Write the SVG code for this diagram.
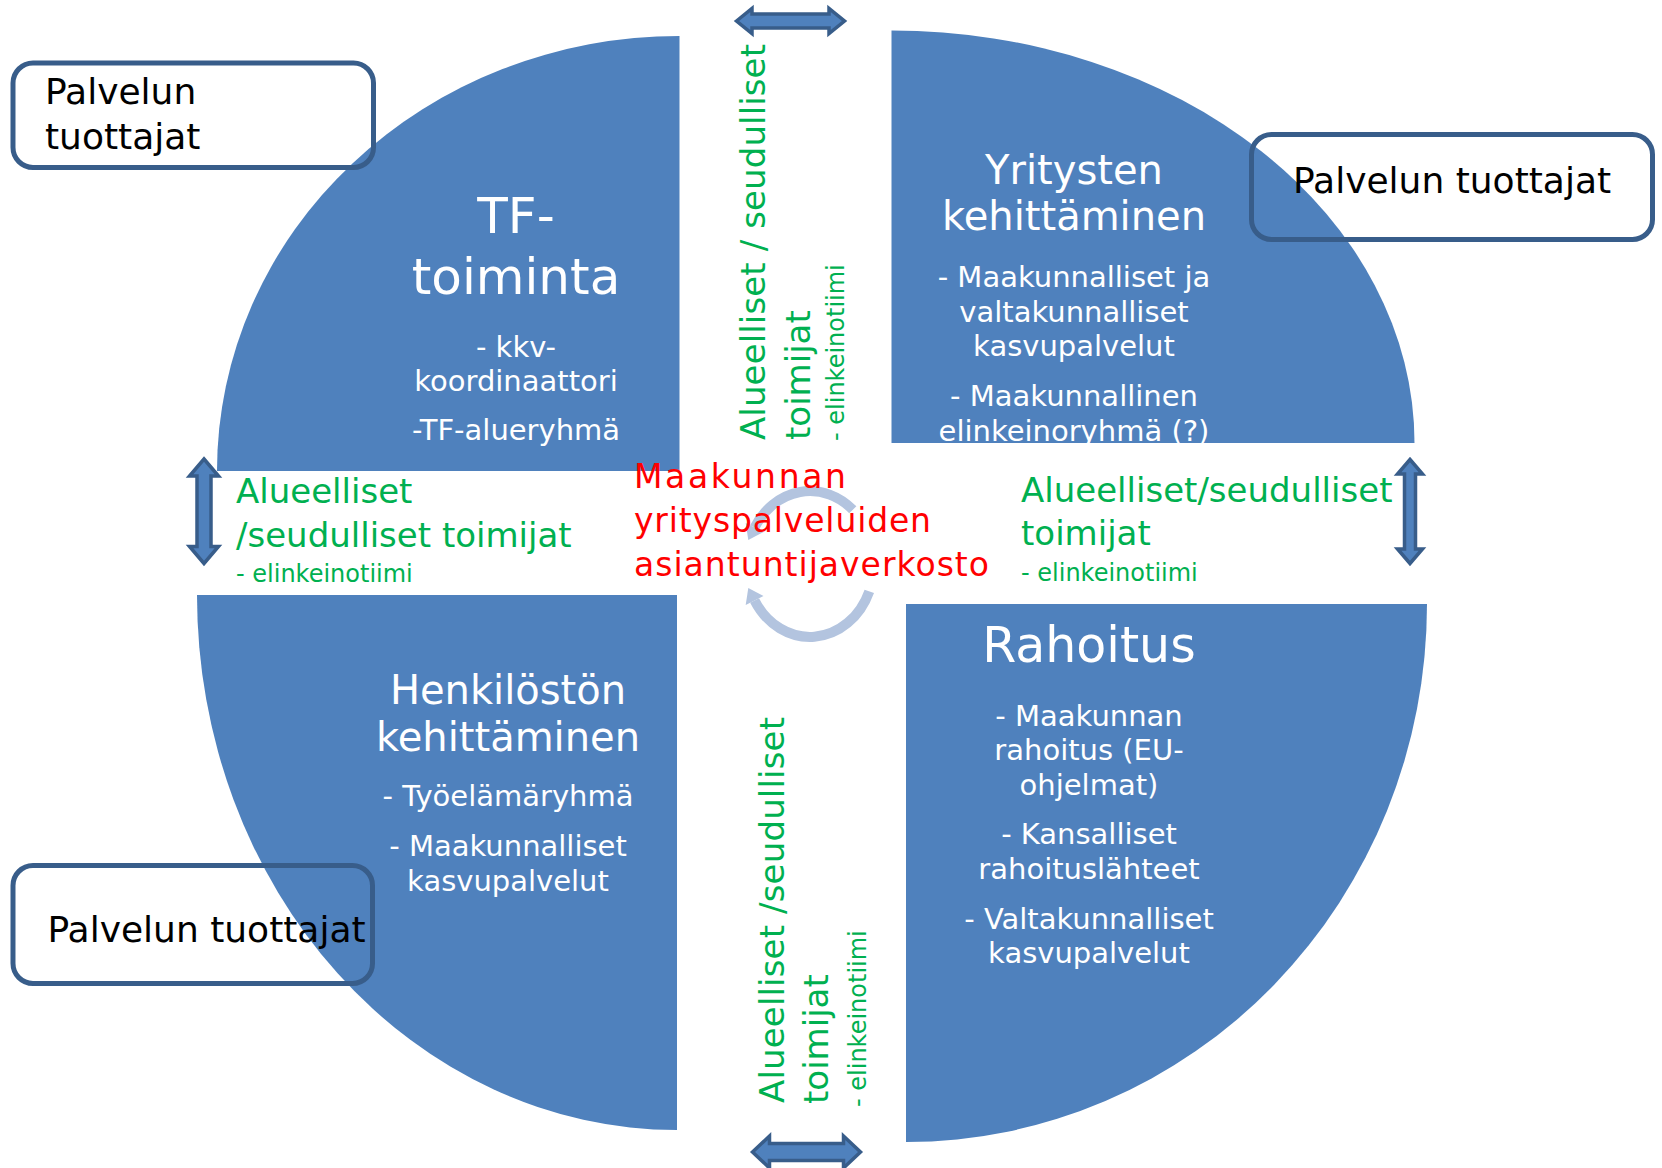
<svg xmlns="http://www.w3.org/2000/svg" width="1662" height="1168" viewBox="0 0 1662 1168">
<style>
text { font-family: 'DejaVu Sans', 'Liberation Sans', sans-serif; }
.quad { fill: #4F81BD; }
.qt { fill: #FFFFFF; text-anchor: middle; }
.big { font-size: 40px; }
.sm { font-size: 29px; }
.box { fill: none; stroke: #385D8A; stroke-width: 5; }
.bt { fill: #000000; font-size: 36px; }
.gr { fill: #00B050; }
.g34 { font-size: 34px; }
.g24 { font-size: 24px; }
.red { fill: #FF0000; font-size: 33px; }
.dbl { fill: #4F81BD; stroke: #385D8A; stroke-width: 3.5; stroke-linejoin: miter; }
.cyc { fill: none; stroke: #B3C4DF; stroke-width: 10; }
.cych { fill: #B3C4DF; }
</style>
<defs>
<clipPath id="clipTR">
<path d="M 891.5 443 L 891.5 30.5 A 523 412.5 0 0 1 1414.5 443 Z"/>
</clipPath>
</defs>
<rect x="0" y="0" width="1662" height="1168" fill="#FFFFFF"/>

<g id="quadrant-tf">
<path class="quad" d="M 679.5 471 L 217 471 A 462.5 435 0 0 1 679.5 36 Z"/>
<text class="qt" x="516" y="233" font-size="50">TF-</text>
<text class="qt" x="516" y="294" font-size="50">toiminta</text>
<text class="qt sm" x="516" y="357" font-size="30">- kkv-</text>
<text class="qt sm" x="516" y="391">koordinaattori</text>
<text class="qt sm" x="516" y="440">-TF-alueryhmä</text>
</g>

<g id="quadrant-yritysten">
<path class="quad" d="M 891.5 443 L 891.5 30.5 A 523 412.5 0 0 1 1414.5 443 Z"/>
<g clip-path="url(#clipTR)">
<text class="qt big" x="1074" y="184">Yritysten</text>
<text class="qt big" x="1074" y="230">kehittäminen</text>
<text class="qt sm" x="1074" y="287">- Maakunnalliset ja</text>
<text class="qt sm" x="1074" y="321.5">valtakunnalliset</text>
<text class="qt sm" x="1074" y="356">kasvupalvelut</text>
<text class="qt sm" x="1074" y="406">- Maakunnallinen</text>
<text class="qt sm" x="1074" y="441">elinkeinoryhmä (?)</text>
</g>
</g>

<g id="quadrant-henkilosto">
<path class="quad" d="M 677 595 L 677 1130 A 480 535 0 0 1 197 595 Z"/>
<text class="qt big" x="508" y="704">Henkilöstön</text>
<text class="qt big" x="508" y="751">kehittäminen</text>
<text class="qt sm" x="508" y="806">- Työelämäryhmä</text>
<text class="qt sm" x="508" y="856">- Maakunnalliset</text>
<text class="qt sm" x="508" y="890.5">kasvupalvelut</text>
</g>

<g id="quadrant-rahoitus">
<path class="quad" d="M 906 604 L 1427 604 A 521 538 0 0 1 906 1142 Z"/>
<text class="qt" x="1089" y="662" font-size="49">Rahoitus</text>
<text class="qt sm" x="1089" y="725.5">- Maakunnan</text>
<text class="qt sm" x="1089" y="760">rahoitus (EU-</text>
<text class="qt sm" x="1089" y="794.5">ohjelmat)</text>
<text class="qt sm" x="1089" y="844">- Kansalliset</text>
<text class="qt sm" x="1089" y="879">rahoituslähteet</text>
<text class="qt sm" x="1089" y="929">- Valtakunnalliset</text>
<text class="qt sm" x="1089" y="963">kasvupalvelut</text>
</g>

<g id="box-tl">
<rect class="box" x="13" y="63" width="360.5" height="104.5" rx="20"/>
<text class="bt" x="45" y="104">Palvelun</text>
<text class="bt" x="45" y="148.5">tuottajat</text>
</g>

<g id="box-tr">
<rect class="box" x="1251.5" y="134.5" width="401" height="105" rx="20"/>
<text class="bt" x="1293" y="193">Palvelun tuottajat</text>
</g>

<g id="box-bl">
<rect class="box" x="13" y="865.5" width="359.5" height="118" rx="20"/>
<text class="bt" x="47.5" y="942">Palvelun tuottajat</text>
</g>

<g id="label-left">
<text class="gr g34" x="236" y="503">Alueelliset</text>
<text class="gr g34" x="236" y="547">/seudulliset toimijat</text>
<text class="gr g24" x="236" y="582">- elinkeinotiimi</text>
</g>

<g id="label-right">
<text class="gr g34" x="1021" y="502">Alueelliset/seudulliset</text>
<text class="gr g34" x="1021" y="545">toimijat</text>
<text class="gr g24" x="1021" y="581">- elinkeinotiimi</text>
</g>

<g id="label-top">
<text class="gr g34" x="765" y="440" transform="rotate(-90 765 440)" textLength="396" lengthAdjust="spacing">Alueelliset / seudulliset</text>
<text class="gr g34" x="810" y="440" transform="rotate(-90 810 440)">toimijat</text>
<text class="gr g24" x="844" y="441" transform="rotate(-90 844 441)">- elinkeinotiimi</text>
</g>

<g id="label-bottom">
<text class="gr g34" x="783.5" y="1103" transform="rotate(-90 783.5 1103)" textLength="386" lengthAdjust="spacing">Alueelliset /seudulliset</text>
<text class="gr g34" x="828" y="1104" transform="rotate(-90 828 1104)">toimijat</text>
<text class="gr g24" x="866" y="1107" transform="rotate(-90 866 1107)">- elinkeinotiimi</text>
</g>

<g id="connectors">
<polygon class="dbl" points="736.5,21 752,8.5 752,14 829,14 829,8.5 844.5,21 829,33.5 829,28 752,28 752,33.5"/>
<polygon class="dbl" points="752.5,1152 769.5,1136 769.5,1143.5 843.5,1143.5 843.5,1136 860.5,1152 843.5,1168 843.5,1160.5 769.5,1160.5 769.5,1168"/>
<polygon class="dbl" points="204,459 218.5,476 211,476 211,546.5 218.5,546.5 204,563.5 189.5,546.5 197,546.5 197,476 189.5,476"/>
<polygon class="dbl" points="1410,459.5 1422.5,474 1415.5,474 1415.5,549 1422.5,549 1410,563.5 1397.5,549 1404.5,549 1404.5,474 1397.5,474"/>
<path class="cyc" d="M 852.8 509.8 A 64 73 0 0 0 754.6 527.5"/>
<polygon class="cych" points="763.5,532 745.7,523 748.3,540"/>
<path class="cyc" d="M 869.3 591.3 A 64 73 0 0 1 754.6 600.5"/>
<polygon class="cych" points="763.5,596 745.7,605 748.3,588"/>
</g>

<g id="center-label">
<text class="red" x="634" y="488" textLength="212" lengthAdjust="spacing">Maakunnan</text>
<text class="red" x="634" y="532" textLength="297" lengthAdjust="spacing">yrityspalveluiden</text>
<text class="red" x="634" y="576" textLength="355" lengthAdjust="spacing">asiantuntijaverkosto</text>
</g>
</svg>
